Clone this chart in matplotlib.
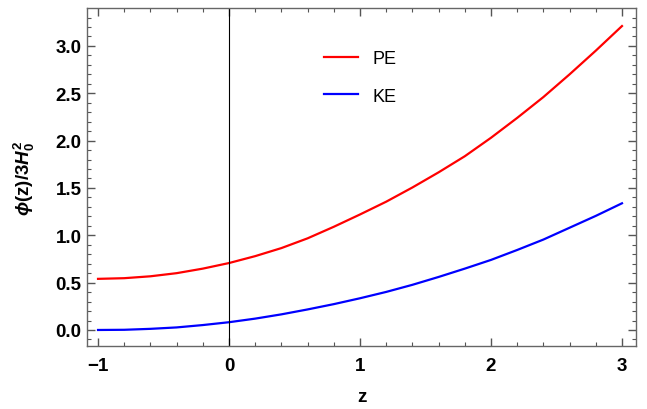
import numpy as np
import matplotlib.pyplot as plt
from matplotlib.ticker import MultipleLocator

plt.rcParams['font.family'] = ['Liberation Sans', 'DejaVu Sans']
plt.rcParams['mathtext.fontset'] = 'custom'
plt.rcParams['mathtext.rm'] = 'Liberation Sans:bold'
plt.rcParams['mathtext.it'] = 'Liberation Sans:italic:bold'
plt.rcParams['mathtext.bf'] = 'Liberation Sans:bold'

z = [-1.0, -0.8, -0.6, -0.4, -0.2, 0.0, 0.2, 0.4, 0.6, 0.8, 1.0,
     1.2, 1.4, 1.6, 1.8, 2.0, 2.2, 2.4, 2.6, 2.8, 3.0]
pe = [0.54, 0.547, 0.567, 0.60, 0.648, 0.707, 0.78, 0.865, 0.968, 1.09, 1.22,
      1.355, 1.505, 1.665, 1.835, 2.03, 2.24, 2.46, 2.70, 2.95, 3.21]
ke = [0.0, 0.002, 0.012, 0.027, 0.052, 0.082, 0.12, 0.165, 0.217, 0.273, 0.335,
      0.402, 0.477, 0.56, 0.648, 0.74, 0.845, 0.955, 1.08, 1.205, 1.338]

fig = plt.figure(figsize=(6.47, 4.10), dpi=100)
ax = fig.add_axes([0.1345, 0.1537, 0.8485, 0.8233])

ax.plot(z, pe, color='#ff0000', lw=1.6, label='PE')
ax.plot(z, ke, color='#0000ff', lw=1.6, label='KE')
ax.axvline(0, color='black', lw=0.8)

ax.set_xlim(-1.084, 3.107)
ax.set_ylim(-0.169, 3.396)
ax.xaxis.set_major_locator(MultipleLocator(1))
ax.xaxis.set_minor_locator(MultipleLocator(0.2))
ax.yaxis.set_major_locator(MultipleLocator(0.5))
ax.yaxis.set_minor_locator(MultipleLocator(0.1))
ax.set_xticks([-1, 0, 1, 2, 3])
ax.set_xticklabels(['\u22121', '0', '1', '2', '3'])

for s in ax.spines.values():
    s.set_color('#666666')
    s.set_linewidth(1.0)
ax.tick_params(which='both', direction='in', top=True, right=True, color='#555555')
ax.tick_params(which='major', length=6, width=1.0, labelsize=13.5)
ax.tick_params(axis='x', which='major', pad=8)
ax.tick_params(axis='y', which='major', pad=4)
ax.tick_params(which='minor', length=3, width=0.8)
for lab in ax.get_xticklabels() + ax.get_yticklabels():
    lab.set_fontweight('bold')

ax.set_xlabel('z', fontsize=13.5, fontweight='bold', labelpad=10)
ax.set_ylabel(r'$\phi$(z)/3$H_0^2$', fontsize=13.5, fontweight='bold', labelpad=13)

ax.legend(loc='upper left', bbox_to_anchor=(0.402, 0.925), frameon=False, fontsize=13,
          handlelength=1.9, labelspacing=1.15, handletextpad=0.8)

plt.savefig('out.png', dpi=100)
